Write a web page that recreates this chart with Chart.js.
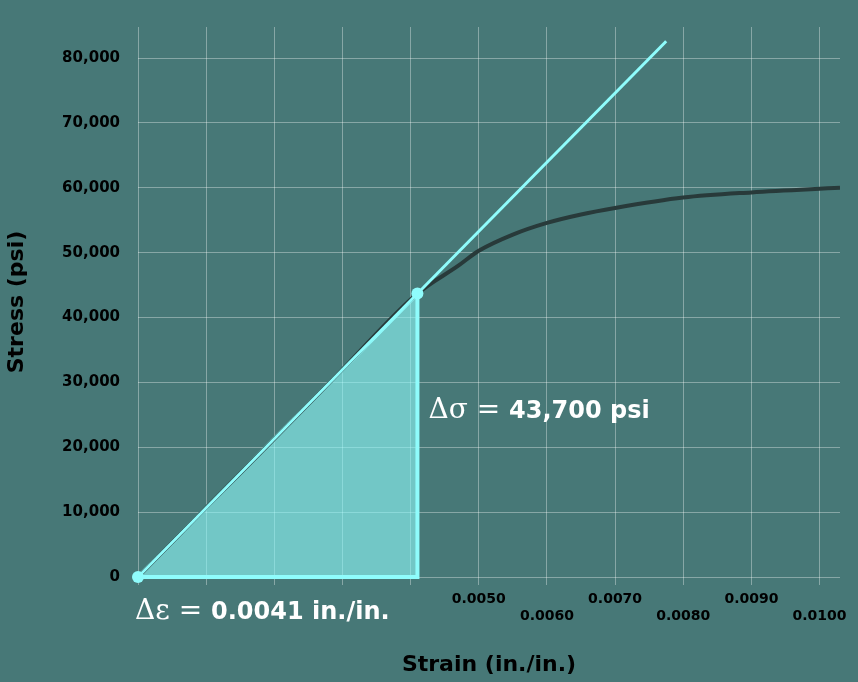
<!DOCTYPE html><html><head><script src="https://cdn.jsdelivr.net/npm/chart.js"></script>
<style>html,body{margin:0;background:#477877;}#w{width:858px;height:682px}</style></head><body><div id="w"><canvas id="c"></canvas></div><script>
const curveX=[0,0.0010,0.0020,0.0030,0.0041,0.0047,0.0050,0.0055,0.0060,0.0065,0.0070,0.0080,0.0090,0.0103];
const curveY=[0,10700,21300,32000,43700,48000,50300,52800,54600,55900,56900,58500,59300,60000];
const modX=[0,0.00775];const modY=[0,82600];
const triX=[0,0.0041,0.0041,0];const triY=[0,43700,0,0];
const fillX=[0,0.0041];const fillY=[0,43700];
const yTicks=[0,10000,20000,30000,40000,50000,60000,70000,80000];
const cyan='#8ffcfc';
const pts=(xs,ys)=>xs.map((x,i)=>({x,y:ys[i]}));
const ann={id:'ann',afterDatasetsDraw(c){const g=c.ctx,x=c.scales.x,y=c.scales.y;g.save();g.fillStyle='#fff';g.textBaseline='alphabetic';
let px=x.getPixelForValue(0)-3,py=y.getPixelForValue(0)+42;g.font='28px "DejaVu Serif"';g.fillText('Δε = ',px,py);let w=g.measureText('Δε = ').width;g.font='bold 24px "DejaVu Sans"';g.fillText('0.0041 in./in.',px+w,py);
px=x.getPixelForValue(0.0041)+11;py=y.getPixelForValue(24500);g.font='28px "DejaVu Serif"';g.fillText('Δσ = ',px,py);w=g.measureText('Δσ = ').width;g.font='bold 24px "DejaVu Sans"';g.fillText('43,700 psi',px+w,py);
g.restore();}};
new Chart(document.getElementById('c'),{type:'scatter',plugins:[ann],data:{datasets:[
{data:pts(fillX,fillY),showLine:true,borderWidth:0,borderColor:'rgba(0,0,0,0)',backgroundColor:'rgba(143,252,252,0.6)',fill:'origin',pointRadius:0,order:4},
{data:pts(triX,triY),showLine:true,borderColor:cyan,borderWidth:4,fill:false,pointRadius:0,order:3,clip:false},
{data:pts(curveX,curveY),showLine:true,borderColor:'#283a3a',borderWidth:4,pointRadius:0,cubicInterpolationMode:'monotone',order:2},
{data:pts(modX,modY),showLine:true,borderColor:cyan,borderWidth:3,pointRadius:0,order:1,clip:false},
{data:pts([0,0.0041],[0,43700]),showLine:false,pointRadius:6,pointBackgroundColor:cyan,pointBorderWidth:0,order:0,clip:false}
]},options:{responsive:true,maintainAspectRatio:false,animation:false,layout:{padding:{right:18,top:-26}},plugins:{legend:{display:false},tooltip:{enabled:false}},
scales:{x:{type:'linear',min:0,max:0.0103,afterFit(s){s.height=105},afterBuildTicks(s){s.ticks=[];for(let i=0;i<=10;i++)s.ticks.push({value:i/1000})},
grid:{color:'rgba(255,255,255,0.35)',tickLength:8},border:{display:false},
ticks:{color:'#000',font:{family:'DejaVu Sans',weight:'bold',size:14},maxRotation:0,autoSkip:false,padding:6,callback(v){const i=Math.round(v*1000);if(i<5)return '';const t=(i/1000).toFixed(4);return i%2?[t,'']:['',t]}},
title:{display:true,text:'Strain (in./in.)',color:'#000',font:{family:'DejaVu Sans',weight:'bold',size:22},padding:{top:14}}},
y:{min:0,max:84800,afterFit(s){s.width=138},afterBuildTicks(s){s.ticks=yTicks.map(v=>({value:v}))},
grid:{color:'rgba(255,255,255,0.35)',tickLength:0},border:{display:false},
ticks:{color:'#000',font:{family:'DejaVu Sans',weight:'bold',size:15},padding:18,callback:v=>v.toLocaleString('en-US')},
title:{display:true,text:'Stress (psi)',color:'#000',font:{family:'DejaVu Sans',weight:'bold',size:22},padding:{bottom:6}}}}}});
</script></body></html>
